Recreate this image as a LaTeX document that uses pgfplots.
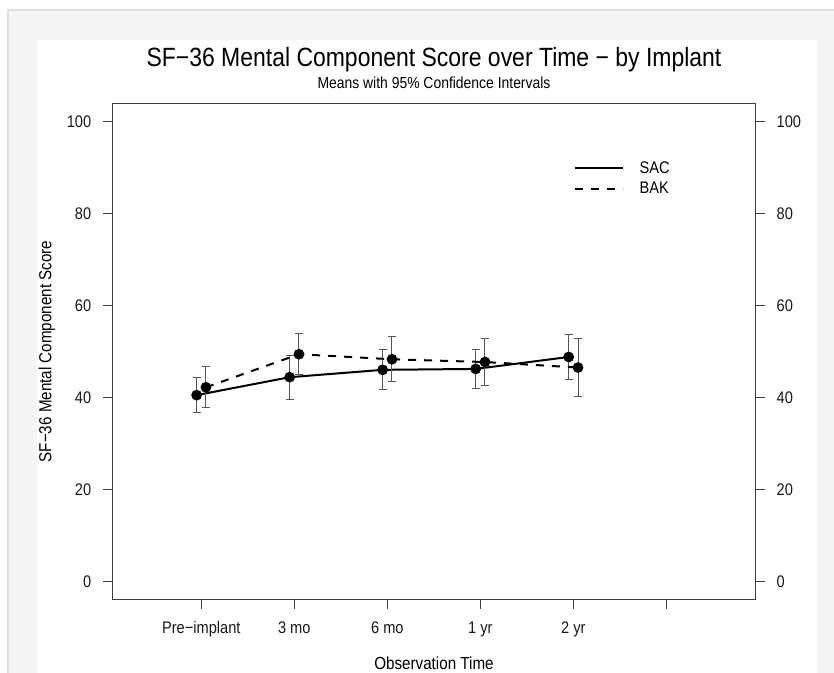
\documentclass[border=0pt]{standalone}
\usepackage{fontspec}
\setmainfont{Liberation Sans}
\newfontfamily\narrowfont[FakeStretch=0.87]{Liberation Sans}
\usepackage{pgfplots}
\pgfplotsset{compat=1.18}
\definecolor{axgray}{RGB}{60,60,60}
\definecolor{errgray}{RGB}{85,85,85}
\definecolor{bggray}{RGB}{245,245,245}
\definecolor{bgline}{RGB}{222,222,222}
\begin{document}
\begin{tikzpicture}[x=1pt,y=1pt]
\path[use as bounding box] (0,0) rectangle (625.5,504.75);
\fill[white] (0,0) rectangle (625.5,504.75);
\fill[bggray] (6,0) rectangle (625.5,497.25);
\draw[bgline, line width=1.2pt] (6,0) -- (6,497.25) -- (625.5,497.25);
\fill[white] (27.75,0) rectangle (612.75,474.75);
\pgfplotsset{
  common/.style={
    at={(84.2pt,55pt)}, anchor=south west,
    scale only axis, width=482.55pt, height=372.3pt,
    xmin=0.043, xmax=6.96, ymin=-4, ymax=104,
    ytick={0,20,40,60,80,100},
    tick align=outside, major tick length=6.75pt,
    axis line style={axgray, line width=0.75pt},
    tick style={axgray, line width=0.75pt},
    ticklabel style={font=\narrowfont\fontsize{12.6}{14}\selectfont, text=black!90},
    xticklabel shift=6pt, yticklabel shift=5.5pt,
    /pgf/number format/assume math mode=true,
  }
}
\begin{axis}[common,
  xtick={1,2,3,4,5,6},
  xticklabels={Pre−implant,3 mo,6 mo,1 yr,2 yr,{}},
  xticklabel style={text height=9pt, text depth=2.5pt},
  xtick pos=lower, ytick pos=left,
  title={SF−36 Mental Component Score over Time − by Implant},
  title style={font=\narrowfont\fontsize{19.8}{22}\selectfont, at={(axis description cs:0.5,1.071)}, anchor=center},
  xlabel={Observation Time},
  xlabel style={font=\narrowfont\fontsize{13.1}{15}\selectfont, at={(axis description cs:0.5,-0.1275)}, anchor=center},
  ylabel={SF−36 Mental Component Score},
  ylabel style={font=\narrowfont\fontsize{13.1}{15}\selectfont, at={(axis description cs:-0.1015,0.5)}, anchor=center},
  extra description/.code={
    \node[font=\narrowfont\fontsize{12}{14}\selectfont] at (axis description cs:0.5,1.042) {Means with 95\% Confidence Intervals};
  },
  legend style={draw=none, fill=none, inner sep=0pt, at={(axis cs:5.0,87.6)}, anchor=west,
    font=\narrowfont\fontsize{12.6}{14}\selectfont, row sep=1.5pt,
    /tikz/every odd column/.append style={column sep=10pt}},
  legend cell align=left,
  legend image code/.code={\draw[#1] (0pt,0pt) -- (36pt,0pt);},
]
\addplot[black, line width=1.5pt, mark=*, mark size=3.25pt, mark options={solid, fill=black},
  error bars/.cd, y dir=both, y explicit, error mark=-,
  error bar style={errgray, line width=0.75pt, solid},
  error mark options={rotate=90, errgray, mark size=3pt, line width=0.75pt, solid}]
coordinates {
  (0.95,40.5) += (0,3.85) -= (0,3.7)
  (1.95,44.4) += (0,4.8) -= (0,4.8)
  (2.95,46.0) += (0,4.4) -= (0,4.35)
  (3.95,46.2) += (0,4.2) -= (0,4.2)
  (4.95,48.8) += (0,4.8) -= (0,4.8)
};
\addlegendentry{SAC}
\addplot[black, line width=1.5pt, dash pattern=on 6pt off 6pt, mark=*, mark size=3.25pt, mark options={solid, fill=black},
  error bars/.cd, y dir=both, y explicit, error mark=-,
  error bar style={errgray, line width=0.75pt, solid},
  error mark options={rotate=90, errgray, mark size=3pt, line width=0.75pt, solid}]
coordinates {
  (1.05,42.2) += (0,4.5) -= (0,4.5)
  (2.05,49.4) += (0,4.4) -= (0,4.4)
  (3.05,48.3) += (0,4.9) -= (0,4.8)
  (4.05,47.7) += (0,5.1) -= (0,5.1)
  (5.05,46.5) += (0,6.4) -= (0,6.4)
};
\addlegendentry{BAK}
\end{axis}
\begin{axis}[common,
  axis x line=none, axis y line*=right,
  ytick pos=right, yticklabel pos=right,
]
\addplot[draw=none] coordinates {(1,0)};
\end{axis}
\end{tikzpicture}
\end{document}
